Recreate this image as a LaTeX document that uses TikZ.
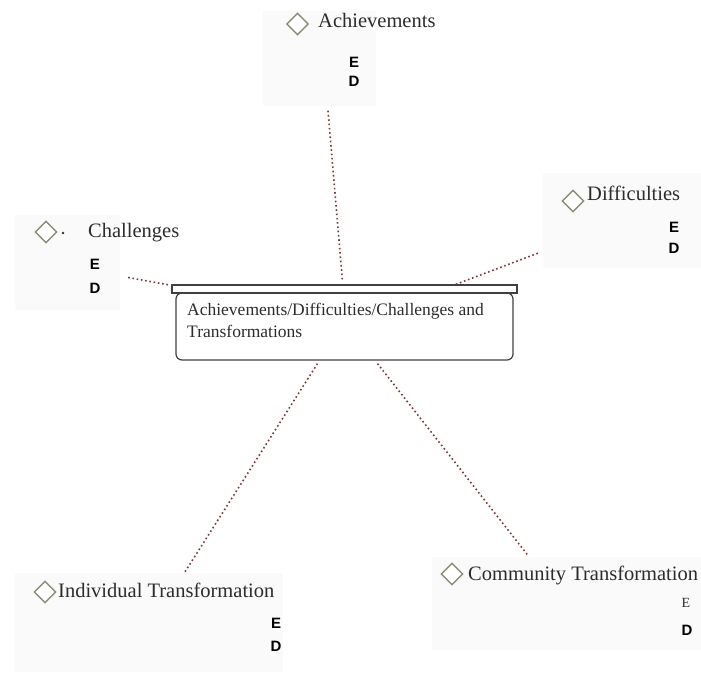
\documentclass[tikz,border=0pt]{standalone}
\usepackage{fontspec}
\setmainfont{Liberation Serif}
\setsansfont{Liberation Sans}
\usetikzlibrary{shapes.geometric,calc}
\definecolor{dotred}{HTML}{7A3A3A}
\definecolor{txtgray}{HTML}{2C2C2C}
\definecolor{dmdgray}{HTML}{8C8C7A}
\definecolor{panelgray}{HTML}{FAFAFA}
\tikzset{
    panel/.style={fill=panelgray, inner sep=0},
    dmd/.style={diamond, draw=dmdgray, line width=1.4pt, fill=white, minimum width=22pt, minimum height=22pt, inner sep=0},
    lbl/.style={anchor=base west, inner sep=0, text=txtgray, font=\fontsize{20.5}{24}\selectfont},
    ed/.style={inner sep=0, font=\sffamily\bfseries\fontsize{15}{18}\selectfont},
    link/.style={dotred, line width=1.6pt, dash pattern=on 1.6pt off 2.7pt}
}
\begin{document}
\begin{tikzpicture}[x=1pt,y=-1pt]
            \useasboundingbox (0,0) rectangle (701,681);
            %panels
            \node[panel, minimum width=113pt, minimum height=95pt] (ach) at (319,58) {};
            \node[panel, minimum width=105pt, minimum height=95pt] (chal) at (67.5,262.5) {};
            \node[panel, minimum width=158pt, minimum height=95pt] (dif) at (622,220.5) {};
            \node[panel, minimum width=268pt, minimum height=99pt] (ind) at (149,622.5) {};
            \node[panel, minimum width=269pt, minimum height=93pt] (com) at (566.5,603.5) {};
            %central box
            \node[draw=black!75, line width=1.2pt, rounded corners=6pt, minimum width=337pt, minimum height=67pt, inner sep=0] (hub) at (344.5,326.5) {};
            \node[draw=black!75, line width=1.2pt, fill=white, minimum width=345pt, minimum height=8pt, inner sep=0] (bar) at (344.5,289) {};
            \node[anchor=north west, align=left, inner sep=0, text=txtgray, font=\fontsize{17.5}{22}\selectfont] (hubtxt) at (187,303)
                {Achievements/Difficulties/Challenges and\\Transformations};
            %Achievements
            \node[dmd] (achd) at (297.5,24) {};
            \node[lbl] (achl) at (318,27) {Achievements};
            \node[ed] (ache) at (354,62) {E};
            \node[ed] (achD) at (354,81) {D};
            %Challenges
            \node[dmd] (chald) at (46,232) {};
            \fill[black!80] (63,233) circle (1.3);
            \node[lbl] (chall) at (88,237) {Challenges};
            \node[ed] (chale) at (95,264) {E};
            \node[ed] (chalD) at (95,288) {D};
            %Difficulties
            \node[dmd] (difd) at (573,201) {};
            \node[lbl] (difl) at (587,200) {Difficulties};
            \node[ed] (dife) at (674,227) {E};
            \node[ed] (difD) at (674,248) {D};
            %Individual Transformation
            \node[dmd] (indd) at (45,592) {};
            \node[lbl] (indl) at (58,597) {Individual Transformation};
            \node[ed] (inde) at (276,623) {E};
            \node[ed] (indD) at (276,646) {D};
            %Community Transformation
            \node[dmd] (comd) at (452,574) {};
            \node[lbl] (coml) at (468,580) {Community Transformation};
            \node[inner sep=0, text=txtgray, font=\fontsize{14}{16}\selectfont] (come) at (686,603) {E};
            \node[ed] (comD) at (687,630) {D};
            %links
            \draw[link] ($(ach.south)+(9,5)$) -- ($(bar.north)+(-2,-3)$);
            \draw[link] ($(chal.east)+(8,15)$) -- ($(bar.west)+(-2,-4)$);
            \draw[link] ($(dif.south west)+(-5,-15)$) -- ($(bar.north east)+(-62,0)$);
            \draw[link] ($(hub.south)+(-27,3)$) -- ($(ind.north)+(36,-1)$);
            \draw[link] ($(hub.south)+(33,3)$) -- ($(com.north)+(-39,-2)$);
\end{tikzpicture}
\end{document}
